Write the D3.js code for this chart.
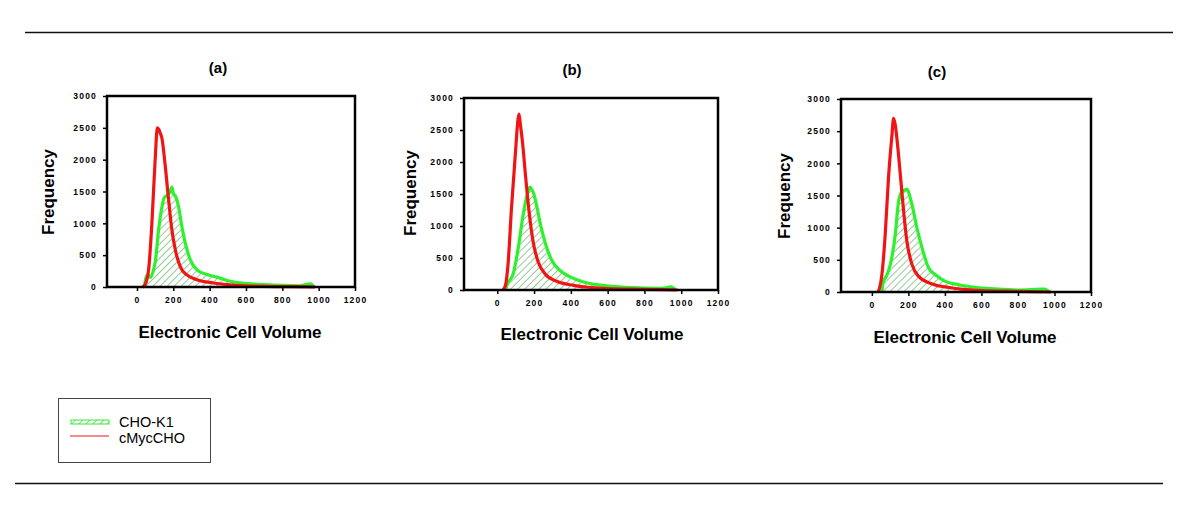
<!DOCTYPE html>
<html>
<head>
<meta charset="utf-8">
<script src="https://cdn.jsdelivr.net/npm/d3@7"></script>
<style>
  body { margin: 0; background: #fff; }
  svg { display: block; font-family: "Liberation Sans", Arial, sans-serif; }
</style>
</head>
<body>
<div class="chart"></div>
<script>
// Panel titles and axis ticks
const panelTitles = ['(a)', '(b)', '(c)'];
const xTicks = [0, 200, 400, 600, 800, 1000, 1200];
const yTicks = [0, 500, 1000, 1500, 2000, 2500, 3000];
const xAxisMin = [-165, -181, -169];
const yAxisMax = 3000;
const seriesNames = ['CHO-K1', 'cMycCHO'];

// [cell volume, frequency]
const choK1_a = [[40,0],[50,150],[60,190],[75,150],[90,260],[101,400],[119,900],[137,1250],[150,1400],[165,1440],[183,1500],[192,1570],[200,1470],[211,1430],[229,1260],[247,950],[266,690],[293,430],[330,270],[385,195],[440,155],[513,90],[605,55],[700,37],[800,25],[900,20],[940,45],[955,50],[975,0]];
const cMyc_a = [[30,0],[45,40],[64,270],[82,1000],[101,2050],[112,2500],[119,2480],[128,2420],[137,2340],[156,1890],[174,1370],[192,900],[211,585],[238,320],[275,190],[330,115],[420,63],[513,32],[600,18],[700,10],[850,5],[980,0]];

const choK1_b = [[45,0],[55,100],[67,150],[86,250],[113,640],[140,1165],[162,1480],[177,1607],[185,1580],[195,1530],[214,1320],[232,1060],[259,750],[296,465],[341,305],[396,205],[469,125],[560,75],[700,42],[900,25],[945,50],[970,0]];
const cMyc_b = [[32,0],[45,80],[58,385],[77,1270],[100,2200],[112,2650],[118,2750],[125,2600],[137,2310],[155,1740],[173,1220],[195,750],[222,440],[259,255],[323,136],[414,73],[500,42],[600,22],[800,10],[980,0]];

const choK1_c = [[55,0],[62,150],[80,250],[101,425],[128,890],[146,1400],[165,1560],[183,1590],[192,1600],[200,1560],[220,1355],[247,995],[275,685],[311,372],[348,268],[403,165],[476,113],[568,73],[700,45],[800,30],[945,45],[970,0]];
const cMyc_c = [[33,0],[42,60],[55,270],[73,890],[91,1770],[110,2440],[119,2700],[128,2600],[137,2390],[156,1820],[174,1250],[192,785],[220,425],[256,242],[330,125],[421,70],[500,40],[600,22],[800,10],[980,0]];

const choSeries = [choK1_a, choK1_b, choK1_c];
const mycSeries = [cMyc_a, cMyc_b, cMyc_c];

const W = 1200, H = 522;
const green = '#2ef02e', red = '#f01414', hatch = '#3c9c3c';

// where each panel sits on the page
const frames = [
    {left: 107, right: 355, top: 96, bottom: 287, title: [218, 73], yLab: [54, 192], xLab: [230, 338]},
    {left: 464, right: 718, top: 98, bottom: 290, title: [572, 75], yLab: [416, 193], xLab: [592, 340]},
    {left: 841, right: 1091, top: 99, bottom: 292, title: [937, 77], yLab: [790, 196], xLab: [965, 343]}
];

const svg = d3.select('.chart')
    .append('svg')
        .attr('width', W)
        .attr('height', H);

// hatch pattern for CHO-K1 fill
svg.append('defs')
    .append('pattern')
        .attr('id', 'hatch')
        .attr('patternUnits', 'userSpaceOnUse')
        .attr('width', 5)
        .attr('height', 5)
        .attr('patternTransform', 'rotate(45)')
    .append('line')
        .attr('x1', 0).attr('y1', 0)
        .attr('x2', 0).attr('y2', 5)
        .attr('stroke', hatch)
        .attr('stroke-width', 1.1);

// separator rules
svg.append('line')
    .attr('x1', 25).attr('x2', 1173).attr('y1', 32.5).attr('y2', 32.5)
    .attr('stroke', '#111').attr('stroke-width', 1.3);
svg.append('line')
    .attr('x1', 15).attr('x2', 1163).attr('y1', 483.5).attr('y2', 483.5)
    .attr('stroke', '#111').attr('stroke-width', 1.3);

frames.forEach((f, i) => {
    const x = d3.scaleLinear().domain([xAxisMin[i], 1200]).range([f.left, f.right]);
    const y = d3.scaleLinear().domain([0, yAxisMax]).range([f.bottom, f.top]);

    const g = svg.append('g');

    // CHO-K1: hatched area + green outline
    g.append('path')
        .datum(choSeries[i])
        .attr('d', d3.area().x(d => x(d[0])).y0(y(0)).y1(d => y(d[1])).curve(d3.curveMonotoneX))
        .attr('fill', 'url(#hatch)');
    g.append('path')
        .datum(choSeries[i])
        .attr('d', d3.line().x(d => x(d[0])).y(d => y(d[1])).curve(d3.curveMonotoneX))
        .attr('fill', 'none')
        .attr('stroke', green)
        .attr('stroke-width', 3.2)
        .attr('stroke-linejoin', 'round');

    // cMycCHO red line
    g.append('path')
        .datum(mycSeries[i])
        .attr('d', d3.line().x(d => x(d[0])).y(d => y(d[1])).curve(d3.curveMonotoneX))
        .attr('fill', 'none')
        .attr('stroke', red)
        .attr('stroke-width', 3.2)
        .attr('stroke-linejoin', 'round');

    // frame
    g.append('rect')
        .attr('x', f.left).attr('y', f.top)
        .attr('width', f.right - f.left).attr('height', f.bottom - f.top)
        .attr('fill', 'none')
        .attr('stroke', '#000')
        .attr('stroke-width', 2.5);

    // axes
    const xAx = g.append('g')
        .attr('transform', `translate(0,${f.bottom})`)
        .call(d3.axisBottom(x).tickValues(xTicks).tickFormat(d3.format('d'))
            .tickSize(4).tickSizeOuter(0).tickPadding(6));
    const yAx = g.append('g')
        .attr('transform', `translate(${f.left},0)`)
        .call(d3.axisLeft(y).tickValues(yTicks).tickFormat(d3.format('d'))
            .tickSize(4).tickSizeOuter(0).tickPadding(6));
    [xAx, yAx].forEach(a => {
        a.select('.domain').remove();
        a.selectAll('line').attr('stroke', '#000').attr('stroke-width', 1.5);
        a.selectAll('text')
            .attr('fill', '#000')
            .style('font-size', '8.5px')
            .style('font-weight', 'bold')
            .style('letter-spacing', '1.2px')
            .style('font-family', '"Liberation Sans", Arial, sans-serif');
    });

    // labels
    g.append('text')
        .attr('x', f.title[0]).attr('y', f.title[1])
        .attr('text-anchor', 'middle')
        .style('font-size', '15px').style('font-weight', 'bold')
        .text(panelTitles[i]);
    g.append('text')
        .attr('transform', `translate(${f.yLab[0]},${f.yLab[1]}) rotate(-90)`)
        .attr('text-anchor', 'middle')
        .style('font-size', '17px').style('font-weight', 'bold')
        .text('Frequency');
    g.append('text')
        .attr('x', f.xLab[0]).attr('y', f.xLab[1])
        .attr('text-anchor', 'middle')
        .style('font-size', '17px').style('font-weight', 'bold')
        .text('Electronic Cell Volume');
});

// legend
const legend = svg.append('g');
legend.append('rect')
    .attr('x', 58.5).attr('y', 398.5).attr('width', 152).attr('height', 64)
    .attr('fill', '#fff').attr('stroke', '#444').attr('stroke-width', 1);
legend.append('rect')
    .attr('x', 71).attr('y', 420).attr('width', 38).attr('height', 4)
    .attr('fill', 'url(#hatch)').attr('stroke', green).attr('stroke-width', 1);
legend.append('line')
    .attr('x1', 70).attr('x2', 109).attr('y1', 436).attr('y2', 436)
    .attr('stroke', red).attr('stroke-width', 1.2);
legend.selectAll('text.lg')
    .data(seriesNames)
    .enter()
        .append('text')
        .attr('class', 'lg')
        .attr('x', 119)
        .attr('y', (d, k) => 427 + k * 16)
        .style('font-size', '14.5px')
        .text(d => d);
</script>
</body>
</html>
